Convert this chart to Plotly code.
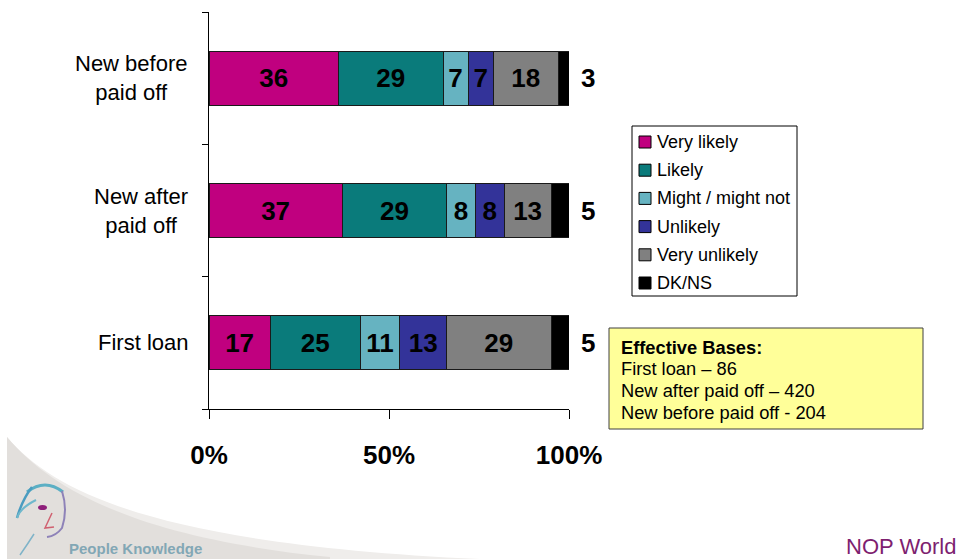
import plotly.graph_objects as go

# ---------------- data ----------------
categories = ["First loan", "New after paid off", "New before paid off"]
category_labels = ["First loan", "New after<br>paid off", "New before<br>paid off"]
series_names = ["Very likely", "Likely", "Might / might not", "Unlikely", "Very unlikely", "DK/NS"]
very_likely = [17, 37, 36]
likely = [25, 29, 29]
might_not = [11, 8, 7]
unlikely = [13, 8, 7]
very_unlikely = [29, 13, 18]
dk_ns = [5, 5, 3]
series_values = [very_likely, likely, might_not, unlikely, very_unlikely, dk_ns]
colors = ["#C0007F", "#0A7B7B", "#66B3C1", "#333399", "#808080", "#000000"]
x_tickvals = [0, 50, 100]
x_ticktext = ["0%", "50%", "100%"]
bases_title = "Effective Bases:"
bases_lines = ["First loan – 86", "New after paid off – 420", "New before paid off - 204"]

FONT = "Liberation Sans, Arial, sans-serif"

# plot area in pixels
L, T, W, H = 209, 12, 360, 397
FIG_W, FIG_H = 961, 559


def px(x):
    return (x - L) / W


def py(y):
    return (T + H - y) / H


fig = go.Figure()

for name, vals, color in zip(series_names, series_values, colors):
    show_text = name != "DK/NS"
    fig.add_trace(go.Bar(
        y=categories, x=vals, orientation="h", name=name,
        marker=dict(color=color, line=dict(color="#1a1a1a", width=1)),
        text=[str(v) for v in vals] if show_text else None,
        textposition="inside" if show_text else "none",
        insidetextanchor="middle", textangle=0,
        textfont=dict(family=FONT, size=26, color="black", weight="bold"),
        showlegend=False, cliponaxis=False,
    ))

shapes = []
annotations = []

# category labels (centered lines, right-anchored block)
for cat, lab in zip(categories, category_labels):
    annotations.append(dict(
        x=0, xref="paper", y=cat, yref="y", xanchor="right", yanchor="middle",
        xshift=-19, text=lab, showarrow=False, align="center",
        font=dict(family=FONT, size=22, color="black")))

# DK/NS values outside the bar ends
totals = [sum(v[i] for v in series_values) for i in range(len(categories))]
for cat, tot, v in zip(categories, totals, dk_ns):
    annotations.append(dict(
        x=tot, xref="x", y=cat, yref="y", xanchor="left", yanchor="middle",
        xshift=10, text=str(v), showarrow=False,
        font=dict(family=FONT, size=26, color="black", weight="bold")))

# custom legend
lx0, ly0, lx1, ly1 = 632, 126, 797, 296
shapes.append(dict(type="rect", xref="paper", yref="paper",
                   x0=px(lx0), x1=px(lx1), y0=py(ly1), y1=py(ly0),
                   line=dict(color="black", width=1), fillcolor="white"))
item_y0, item_step = 142, 28.2
for i, (name, color) in enumerate(zip(series_names, colors)):
    cy = item_y0 + i * item_step
    shapes.append(dict(type="rect", xref="paper", yref="paper",
                       x0=px(639), x1=px(651), y0=py(cy + 6), y1=py(cy - 6),
                       line=dict(color="black", width=1), fillcolor=color))
    annotations.append(dict(
        x=px(655), xref="paper", y=py(cy), yref="paper", xanchor="left",
        yanchor="middle", text=name, showarrow=False,
        font=dict(family=FONT, size=18, color="black")))

# effective bases box
shapes.append(dict(type="rect", xref="paper", yref="paper",
                   x0=px(609), x1=px(923), y0=py(429), y1=py(328),
                   line=dict(color="#404040", width=1), fillcolor="#FFFF99"))
box_lines = ["<b>" + bases_title + "</b>"] + bases_lines
for i, line in enumerate(box_lines):
    annotations.append(dict(
        x=px(619), xref="paper", y=py(347 + i * 21.8), yref="paper",
        xanchor="left", yanchor="middle", align="left", showarrow=False,
        text=line, font=dict(family=FONT, size=18.3, color="black")))


# decorative background swoosh
def pt(x, y):
    return f"{px(x):.5f},{py(y):.5f}"


swoosh_outer = f"M {pt(7,437)} C {pt(60,500)} {pt(180,545)} {pt(480,559)} L {pt(7,559)} Z"
swoosh_inner = f"M {pt(7,437)} C {pt(60,500)} {pt(160,540)} {pt(330,557)} L {pt(330,559)} L {pt(7,559)} Z"
shapes.append(dict(type="path", xref="paper", yref="paper", path=swoosh_outer,
                   fillcolor="#EFEDEB", line=dict(width=0), layer="below"))
shapes.append(dict(type="path", xref="paper", yref="paper", path=swoosh_inner,
                   fillcolor="#E2DFDC", line=dict(width=0), layer="below"))

# simple face logo
face_paths = [
    (f"M {pt(27,492)} Q {pt(45,478)} {pt(63,492)}", "#5BAFC4", 3),
    (f"M {pt(32,487)} Q {pt(22,500)} {pt(17,518)}", "#4A9CC0", 2.5),
    (f"M {pt(17,518)} Q {pt(20,508)} {pt(36,500)}", "#6FB8CC", 2),
    (f"M {pt(62,491)} Q {pt(68,510)} {pt(62,528)} Q {pt(56,536)} {pt(47,537)}", "#8E82B8", 2),
    (f"M {pt(34,534)} Q {pt(27,545)} {pt(20,555)}", "#7FB3C8", 1.5),
    (f"M {pt(52,513)} L {pt(45,528)} L {pt(54,527)}", "#D06070", 1.5),
]
for path, col, wdt in face_paths:
    shapes.append(dict(type="path", xref="paper", yref="paper", path=path,
                       line=dict(color=col, width=wdt), layer="below"))
shapes.append(dict(type="circle", xref="paper", yref="paper",
                   x0=px(38), x1=px(47), y0=py(510), y1=py(505),
                   fillcolor="#8E1F7A", line=dict(width=0), layer="below"))

annotations.append(dict(
    x=px(67), xref="paper", y=py(548), yref="paper", xanchor="left",
    yanchor="middle", text="People Knowledge", showarrow=False,
    font=dict(family=FONT, size=15, color="#82A7B5", weight="bold")))
annotations.append(dict(
    x=px(958), xref="paper", y=py(546), yref="paper", xanchor="right",
    yanchor="middle", text="NOP World", showarrow=False,
    font=dict(family=FONT, size=22, color="#7E1F70")))

fig.update_layout(
    width=FIG_W, height=FIG_H, autosize=False,
    margin=dict(l=L, r=FIG_W - L - W, t=T, b=FIG_H - T - H, pad=0),
    paper_bgcolor="white", plot_bgcolor="white",
    barmode="stack", bargap=1 - 54 / 133,
    showlegend=False,
    font=dict(family=FONT, color="black"),
    shapes=shapes, annotations=annotations,
)

fig.update_xaxes(
    range=[0, 100], showgrid=False, zeroline=False,
    showline=True, linecolor="black", linewidth=1,
    ticks="outside", ticklen=9, tickcolor="black", tickwidth=1,
    tickvals=x_tickvals, ticktext=x_ticktext,
    tickfont=dict(family=FONT, size=26, color="black", weight="bold"),
    ticklabelstandoff=14,
)
fig.update_yaxes(
    type="category", categoryorder="array", categoryarray=categories,
    range=[-0.5, 2.5], showgrid=False, zeroline=False,
    showline=True, linecolor="black", linewidth=1,
    ticks="outside", tickson="boundaries", ticklen=6, tickcolor="black",
    showticklabels=False,
)

fig.write_html("out.html")
